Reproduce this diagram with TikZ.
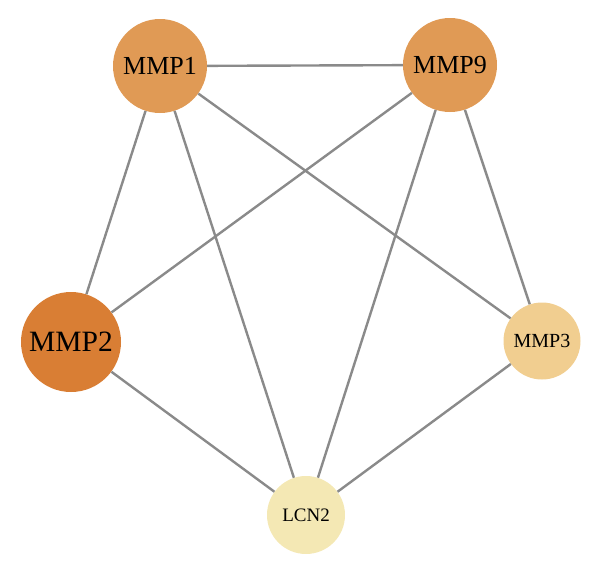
\documentclass[tikz,border=0pt]{standalone}
\usepackage{fontspec}
\setmainfont{Liberation Serif}
\definecolor{cA}{HTML}{E09A55}
\definecolor{cB}{HTML}{D97E34}
\definecolor{cC}{HTML}{F1CE90}
\definecolor{cD}{HTML}{F4E8B4}
\definecolor{edge}{HTML}{8A8A8A}
\begin{document}
\begin{tikzpicture}[x=1pt,y=-1pt,
  gene/.style={circle,inner sep=0pt,text=black},
  link/.style={draw=edge,line width=2.4pt}]
\useasboundingbox (0,0) rectangle (600,570);
\node[gene,fill=cA,minimum size=94pt,font=\fontsize{26}{26}\selectfont] (mmp1) at (160,66) {MMP1};
\node[gene,fill=cA,minimum size=94pt,font=\fontsize{26}{26}\selectfont] (mmp9) at (450,65) {MMP9};
\node[gene,fill=cB,minimum size=100pt,font=\fontsize{29.5}{29.5}\selectfont] (mmp2) at (71,342) {MMP2};
\node[gene,fill=cC,minimum size=77pt,font=\fontsize{20}{20}\selectfont] (mmp3) at (542,341) {MMP3};
\node[gene,fill=cD,minimum size=78pt,font=\fontsize{19}{19}\selectfont] (lcn2) at (306,515) {LCN2};
\draw[link] (mmp1) -- (mmp9);
\draw[link] (mmp1) -- (mmp2);
\draw[link] (mmp1) -- (lcn2);
\draw[link] (mmp1) -- (mmp3);
\draw[link] (mmp9) -- (mmp2);
\draw[link] (mmp9) -- (lcn2);
\draw[link] (mmp9) -- (mmp3);
\draw[link] (mmp2) -- (lcn2);
\draw[link] (mmp3) -- (lcn2);
\end{tikzpicture}
\end{document}
